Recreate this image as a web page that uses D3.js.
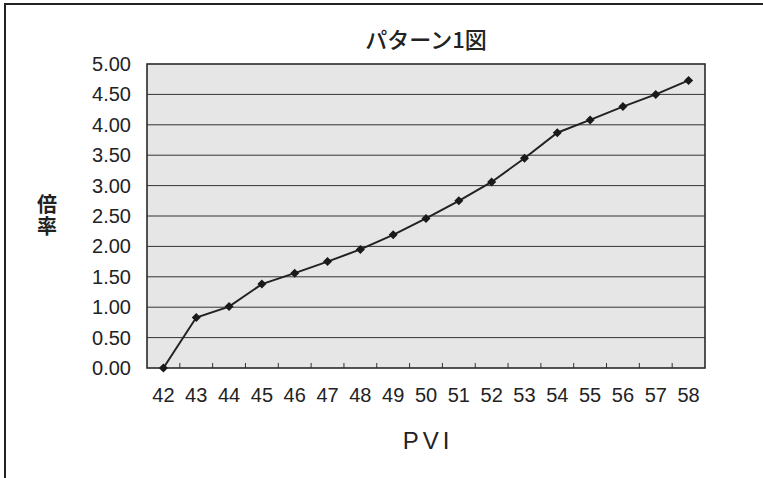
<!DOCTYPE html>
<html>
<head>
<meta charset="utf-8">
<script src="https://cdn.jsdelivr.net/npm/d3@7"></script>
<style>
  html, body { margin: 0; padding: 0; background: #fff; }
  svg { display: block; }
</style>
</head>
<body>
<svg id="chart" width="763" height="478"></svg>
<script>
// PVI values on the horizontal axis
const pvi = [42, 43, 44, 45, 46, 47, 48, 49, 50, 51, 52, 53, 54, 55, 56, 57, 58];
// multiplier (倍率) for each PVI
const ratio = [0.00, 0.83, 1.01, 1.38, 1.56, 1.75, 1.95, 2.19, 2.46, 2.75, 3.06, 3.45, 3.87, 4.08, 4.30, 4.50, 4.73];
// vertical axis ticks
const yTicks = [0, 0.5, 1, 1.5, 2, 2.5, 3, 3.5, 4, 4.5, 5];

const title = "パターン1図";
const xTitle = "PVI";
const yTitle = "倍率";

const svg = d3.select("#chart");
const W = 763, H = 478;
const plot = { left: 147, right: 705, top: 64, bottom: 368 };

const latin = "'Liberation Sans', Arial, Helvetica, sans-serif";
const cjk = "'Noto Sans CJK JP', 'Noto Sans CJK SC', sans-serif";

// outer frame (top and left edges visible)
svg.append("path")
  .attr("d", `M5,${H + 5}V4H${W + 5}`)
  .attr("fill", "none")
  .attr("stroke", "#222")
  .attr("stroke-width", 2);

const x = d3.scaleBand()
  .domain(pvi)
  .range([plot.left, plot.right])
  .paddingInner(0)
  .paddingOuter(0);

const y = d3.scaleLinear()
  .domain([0, 5])
  .range([plot.bottom, plot.top]);

// plot background
svg.append("rect")
  .attr("x", plot.left).attr("y", plot.top)
  .attr("width", plot.right - plot.left)
  .attr("height", plot.bottom - plot.top)
  .attr("fill", "#e6e6e6");

// horizontal gridlines
svg.append("g")
  .selectAll("line")
  .data(yTicks.filter(d => d > 0 && d < 5))
  .join("line")
  .attr("x1", plot.left).attr("x2", plot.right)
  .attr("y1", d => y(d)).attr("y2", d => y(d))
  .attr("stroke", "#333")
  .attr("stroke-width", 1);

// y axis labels
const yAxis = d3.axisLeft(y)
  .tickValues(yTicks)
  .tickFormat(d3.format(".2f"))
  .tickSize(0)
  .tickPadding(16);
const gy = svg.append("g")
  .attr("transform", `translate(${plot.left},0)`)
  .call(yAxis);
gy.select(".domain").remove();
gy.selectAll("text")
  .attr("font-family", latin)
  .attr("font-size", 20)
  .attr("fill", "#222");

// x axis: labels under each category, small inward ticks between categories
const xAxis = d3.axisBottom(x)
  .tickSize(0)
  .tickPadding(20);
const gx = svg.append("g")
  .attr("transform", `translate(0,${plot.bottom})`)
  .call(xAxis);
gx.select(".domain").remove();
gx.selectAll("text")
  .attr("font-family", latin)
  .attr("font-size", 20)
  .attr("fill", "#222");

svg.append("g")
  .selectAll("line")
  .data(pvi.slice(1))
  .join("line")
  .attr("x1", d => x(d)).attr("x2", d => x(d))
  .attr("y1", plot.bottom).attr("y2", plot.bottom - 5)
  .attr("stroke", "#333")
  .attr("stroke-width", 1);

// plot border
svg.append("rect")
  .attr("x", plot.left).attr("y", plot.top)
  .attr("width", plot.right - plot.left)
  .attr("height", plot.bottom - plot.top)
  .attr("fill", "none")
  .attr("stroke", "#2a2a2a")
  .attr("stroke-width", 1.6);

// series line
const cx = d => x(d) + x.bandwidth() / 2;
const line = d3.line()
  .x((d, i) => cx(pvi[i]))
  .y(d => y(d));
svg.append("path")
  .datum(ratio)
  .attr("d", line)
  .attr("fill", "none")
  .attr("stroke", "#222")
  .attr("stroke-width", 2);

// diamond markers
const diamond = d3.symbol().type(d3.symbolDiamond2).size(52);
svg.append("g")
  .selectAll("path")
  .data(ratio)
  .join("path")
  .attr("transform", (d, i) => `translate(${cx(pvi[i])},${y(d)})`)
  .attr("d", diamond)
  .attr("fill", "#1a1a1a");

// chart title
svg.append("text")
  .attr("x", (plot.left + plot.right) / 2)
  .attr("y", 48)
  .attr("text-anchor", "middle")
  .attr("font-family", cjk)
  .attr("font-size", 22)
  .attr("font-weight", 500)
  .attr("fill", "#222")
  .text(title);

// x axis title
svg.append("text")
  .attr("x", (plot.left + plot.right) / 2 + 2)
  .attr("y", 449)
  .attr("text-anchor", "middle")
  .attr("font-family", latin)
  .attr("font-size", 24)
  .attr("letter-spacing", 4)
  .attr("fill", "#222")
  .text(xTitle);

// y axis title, set vertically
svg.append("text")
  .attr("x", 47)
  .attr("y", 194)
  .attr("writing-mode", "vertical-rl")
  .style("text-orientation", "upright")
  .attr("letter-spacing", 2)
  .attr("font-family", cjk)
  .attr("font-size", 20)
  .attr("font-weight", 600)
  .attr("fill", "#222")
  .text(yTitle);
</script>
</body>
</html>
